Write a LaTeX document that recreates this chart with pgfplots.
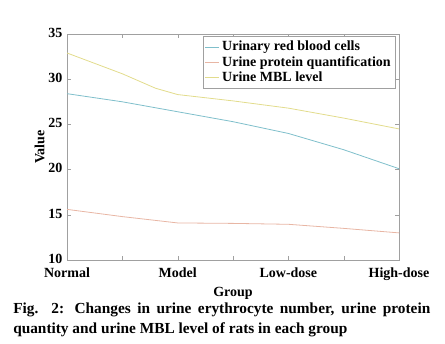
\documentclass[border=0pt]{standalone}
\usepackage{pgfplots}
\pgfplotsset{compat=1.18}
\usepackage{fontspec}
\setmainfont{Liberation Serif}
\definecolor{cblue}{HTML}{7FBFCB}
\definecolor{cpink}{HTML}{E8B6A4}
\definecolor{cyell}{HTML}{E2DC8C}
\definecolor{axgray}{HTML}{A0A0A0}
\begin{document}
\begin{tikzpicture}[x=0.75pt,y=0.75pt]
\useasboundingbox (0,0) rectangle (445,343);
\begin{axis}[
  at={(50.25pt,62.25pt)}, anchor=south west,
  scale only axis, width=249pt, height=169.5pt,
  xmin=0, xmax=3, ymin=10, ymax=35,
  xtick={0,1,2,3},
  xticklabels={Normal,Model,Low-dose,High-dose},
  minor x tick num=1,
  ytick={10,15,20,25,30,35},
  tick align=inside,
  axis line style={axgray},
  tick style={axgray},
  major tick length=3pt, minor tick length=3pt,
  tick label style={font=\bfseries\fontsize{10.5}{12}\selectfont},
  /pgf/number format/assume math mode=true,
  xlabel={\bfseries Group}, ylabel={\bfseries Value},
  label style={font=\bfseries\fontsize{10.5}{12}\selectfont},
  xlabel style={yshift=2pt},
  ylabel style={yshift=-4pt},
  yticklabel style={yshift=1pt},
  xticklabel style={yshift=-2.5pt},
  legend style={at={(rel axis cs:0.99,0.99)}, anchor=north east,
    draw=axgray, font=\bfseries\fontsize{10.5}{11}\selectfont,
    row sep=-1.5pt, inner sep=1.5pt},
  legend cell align=left,
  legend image post style={xscale=0.6},
  every axis plot/.append style={line width=0.6pt},
]
\addplot[cblue] coordinates {(0,28.4) (0.5,27.5) (1,26.4) (1.5,25.3) (2,24.0) (2.5,22.2) (3,20.1)};
\addlegendentry{Urinary red blood cells}
\addplot[cpink] coordinates {(0,15.6) (0.5,14.8) (1,14.1) (1.5,14.05) (2,13.95) (2.5,13.5) (3,13.0)};
\addlegendentry{Urine protein quantification}
\addplot[cyell] coordinates {(0,32.9) (0.5,30.6) (0.8,29.0) (1,28.3) (1.5,27.6) (2,26.8) (2.5,25.7) (3,24.5)};
\addlegendentry{Urine MBL level}
\end{axis}
\node[anchor=north west, inner sep=0pt, font=\bfseries\fontsize{11.5}{15}\selectfont, align=left] at (13,40) {\makebox[312.75pt][s]{Fig. 2: Changes in urine erythrocyte number, urine protein}\\quantity and urine MBL level of rats in each group};
\end{tikzpicture}
\end{document}
